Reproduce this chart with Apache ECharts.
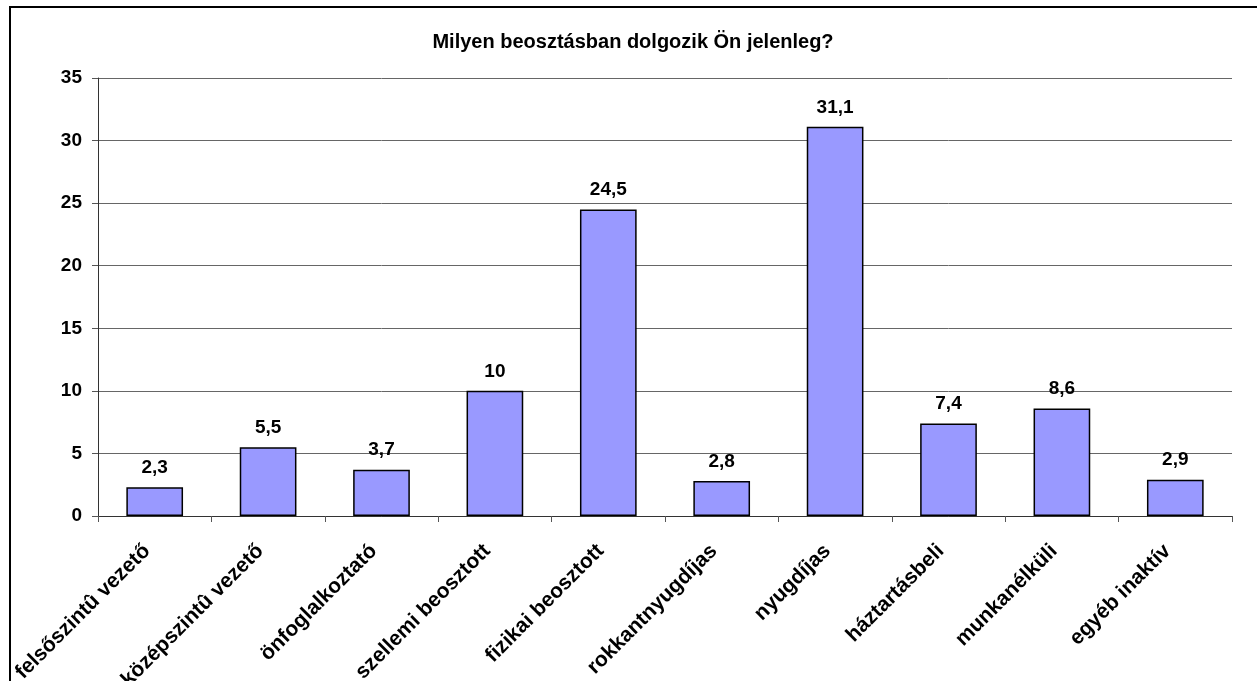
<!DOCTYPE html>
<html>
<head>
<meta charset="utf-8">
<script src="https://cdn.jsdelivr.net/npm/echarts@6/dist/echarts.min.js"></script>
<style>
html,body{margin:0;padding:0;background:#fff;}
#chart{width:1257px;height:681px;}
</style>
</head>
<body>
<div id="chart"></div>
<script>
const titleText = 'Milyen beosztásban dolgozik Ön jelenleg?';
const categories = ['felsőszintû vezető','középszintû vezető','önfoglalkoztató','szellemi beosztott','fizikai beosztott','rokkantnyugdíjas','nyugdíjas','háztartásbeli','munkanélküli','egyéb inaktív'];
const values = [2.3, 5.5, 3.7, 10, 24.5, 2.8, 31.1, 7.4, 8.6, 2.9];
const yMin = 0, yMax = 35, yStep = 5;

const FONT = '"Liberation Sans", Arial, sans-serif';
const chart = echarts.init(document.getElementById('chart'), null, {renderer:'canvas'});
chart.setOption({
  animation:false,
  backgroundColor:'#fff',
  title:{
    text:titleText, left:628, top:27, textAlign:'center',
    textStyle:{fontFamily:FONT, fontWeight:'bold', fontSize:20, color:'#000'}
  },
  graphic:[{
    type:'rect', silent:true, z:100,
    shape:{x:10, y:7, width:1400, height:1000},
    style:{fill:'none', stroke:'#000', lineWidth:2}
  }],
  grid:{left:98, right:25, top:78, bottom:165, containLabel:false, outerBoundsMode:'none'},
  xAxis:{
    type:'category', data:categories,
    axisLine:{lineStyle:{color:'#333', width:1}},
    axisTick:{show:true, alignWithLabel:false, length:6, inside:false, lineStyle:{color:'#555'}},
    axisLabel:{rotate:45, margin:24, interval:0, padding:[0,11,0,0], fontFamily:FONT, fontWeight:'bold', fontSize:21, color:'#000'}
  },
  yAxis:{
    type:'value', min:yMin, max:yMax, interval:yStep,
    axisLine:{show:true, lineStyle:{color:'#333', width:1}},
    axisTick:{show:true, length:6, lineStyle:{color:'#555'}},
    axisLabel:{margin:16, fontFamily:FONT, fontWeight:'bold', fontSize:19, color:'#000'},
    splitLine:{show:true, lineStyle:{color:'#666', width:1}}
  },
  series:[{
    type:'bar', data:values, barWidth:'50%',
    itemStyle:{color:'#9999FF', borderColor:'#000', borderWidth:1.5},
    label:{show:true, position:'top', distance:10, fontFamily:FONT, fontWeight:'bold', fontSize:19, color:'#000',
      formatter:p=>String(p.value).replace('.', ',')}
  }]
});
</script>
</body>
</html>
